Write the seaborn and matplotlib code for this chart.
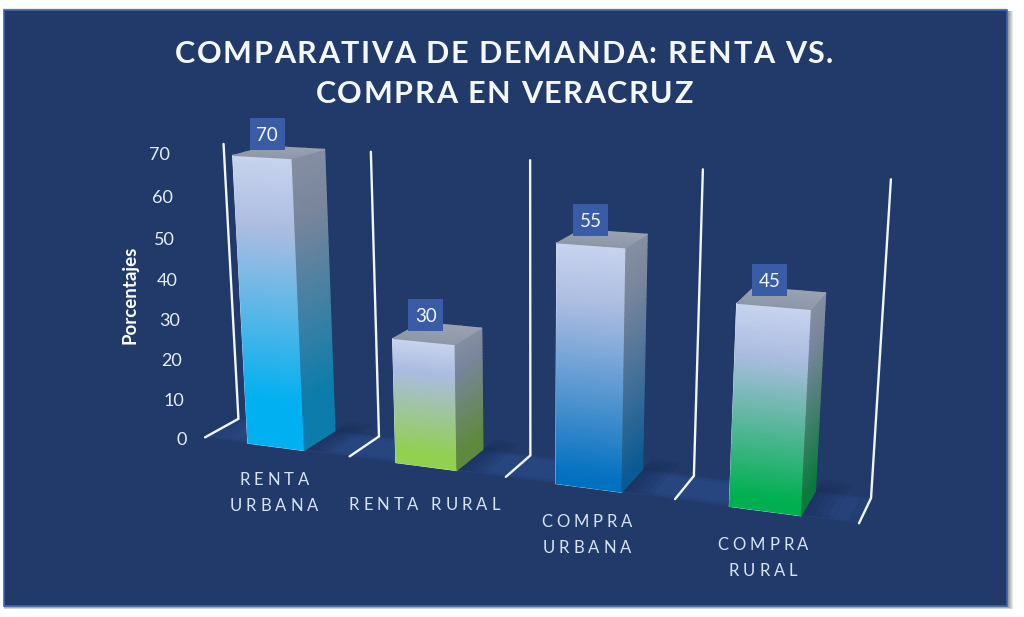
from __future__ import annotations

import matplotlib
matplotlib.use("Agg")
import matplotlib.pyplot as plt
import numpy as np
import pandas as pd
import seaborn as sns
from matplotlib.colors import LinearSegmentedColormap
from matplotlib.patches import Polygon, Rectangle
from matplotlib.text import Text
from matplotlib.transforms import IdentityTransform, Transform


CATEGORIES = ["RENTA\nURBANA", "RENTA RURAL", "COMPRA\nURBANA", "COMPRA\nRURAL"]
VALUES = [70, 30, 55, 45]
Y_TICKS = [0, 10, 20, 30, 40, 50, 60, 70]
BASE_COLORS = ["#00B0F0", "#92D050", "#0070C0", "#00B050"]
SIDE_COLORS = ["#0B7CAB", "#5F8A3C", "#0A5A94", "#0A7A3C"]
BASE_HOLD = [0.16, 0.1, 0.03, 0.06]
TITLE = "COMPARATIVA DE DEMANDA: RENTA VS.\nCOMPRA EN VERACRUZ"
Y_LABEL = "Porcentajes"

PANEL = "#213A69"
FLOOR = "#2A4A88"
EDGE = "#3F63AE"
BOX = "#3A5BA5"
LINE = "#F2F5FA"
BAR_WIDTH = 0.39
LABEL_DROP = [45, 37, 46, 46]

# camera: rows x, y, w; columns 1, category, value, depth (image pixels)
CAMERA = np.array([
    [273.96, 133.15, -0.383, 42.6],
    [443.41, 2.1, -4.22, -3.26],
    [0.99269, -0.0375, -0.000716, 0.037],
])


def project(t, v, d=0.0):
    t, v, d = np.broadcast_arrays(np.asarray(t, float), np.asarray(v, float), np.asarray(d, float))
    x, y, w = (row[0] + row[1] * t + row[2] * v + row[3] * d for row in CAMERA)
    return x / w, y / w


class FrontPlane(Transform):
    input_dims = 2
    output_dims = 2

    def transform_non_affine(self, values):
        x, y = project(values[:, 0], values[:, 1])
        return np.column_stack([x, y])


class TrackedText(Text):
    """Text with letter spacing, the string stays whole."""

    def __init__(self, x, y, text, tracking=0.0, leading=20.0, **kwargs):
        super().__init__(x, y, text, ha="center", va="center", **kwargs)
        self.tracking = tracking
        self.leading = leading

    def draw(self, renderer):
        fp = self.get_fontproperties()
        size = renderer.get_text_width_height_descent

        def advance(s):
            return size("|" + s + "|", fp, False)[0] - size("||", fp, False)[0]

        cx, cy = self.get_transform().transform(self.get_position())
        cap = size("H", fp, False)[1]
        lines = self.get_text().split("\n")
        for n, line in enumerate(lines):
            total = advance(line) + self.tracking * (len(line) - 1)
            base = cy - cap / 2 + ((len(lines) - 1) / 2 - n) * self.leading
            for k, ch in enumerate(line):
                if ch == " ":
                    continue
                glyph = Text(cx - total / 2 + advance(line[:k]) + k * self.tracking, base, ch,
                             fontproperties=fp, color=self.get_color(), ha="left", va="baseline",
                             transform=IdentityTransform())
                glyph.set_figure(self.get_figure())
                glyph.draw(renderer)


def draw_face(ax, t, v, d, c, cmap):
    x, y = project(t, v, d)
    ax.pcolormesh(x, y, c, shading="gouraud", cmap=cmap, vmin=0, vmax=1)


def floor_poly(t0, t1, d0, d1):
    x, y = project([t0, t1, t1, t0], 0, [d0, d0, d1, d1])
    return np.column_stack([x, y])


sns.set_theme(style="white")
plt.rcParams["font.family"] = ["Lato", "DejaVu Sans"]

fig = plt.figure(figsize=(10.24, 6.17), dpi=100, facecolor="white")
ax_back = fig.add_axes([0, 0, 1, 1], zorder=0)
ax_bar = fig.add_axes([0, 0, 1, 1], zorder=1)
ax_front = fig.add_axes([0, 0, 1, 1], zorder=2)
for ax in (ax_back, ax_front):
    ax.set_xlim(0, 1024)
    ax.set_ylim(617, 0)
    ax.set_axis_off()

# panel and its shadow
for s in range(6, 0, -1):
    ax_back.add_patch(Rectangle((4, 11), 1003 + s, 595 + s * 0.5, color="black", alpha=0.09, lw=0))
ax_back.add_patch(Rectangle((3, 8), 1004, 4, color="black", alpha=0.08, lw=0))
ax_back.add_patch(Rectangle((4, 10), 1003, 596, facecolor=PANEL, edgecolor=EDGE, lw=1.2))

# floor
n_cat = len(CATEGORIES)
bounds = np.arange(n_cat + 1) - 0.5
for inset, alpha in [(0.0, 0.35), (0.06, 0.35), (0.14, 0.4)]:
    ax_back.add_patch(Polygon(floor_poly(bounds[0] + inset, bounds[-1] - inset, inset, 1 - inset),
                              color=FLOOR, alpha=alpha, lw=0))

# seaborn draws the bars, the front plane carries them into the picture
df = pd.DataFrame({"categoria": CATEGORIES, "porcentaje": VALUES})
sns.barplot(data=df, x="categoria", y="porcentaje", hue="categoria", palette=BASE_COLORS,
            width=BAR_WIDTH, saturation=1, legend=False, ax=ax_bar)
ax_bar.set_axis_off()
for bar in ax_bar.patches:
    bar.set_transform(FrontPlane() + ax_back.transData)
    bar.set_clip_on(False)

top_cmap = LinearSegmentedColormap.from_list("top", ["#8E97A8", "#9AA2B2"])
for i, bar in enumerate(ax_bar.patches):
    left, right, height = bar.get_x(), bar.get_x() + bar.get_width(), bar.get_height()

    for k in range(5):
        shade = floor_poly(right, right + 0.03 + 0.035 * k, 0.05, 1.0 + 0.12 * k)
        ax_back.add_patch(Polygon(shade, color="#16294F", alpha=0.13, lw=0))

    front_cmap = LinearSegmentedColormap.from_list(
        f"front{i}",
        [(0, BASE_COLORS[i]), (BASE_HOLD[i], BASE_COLORS[i]), (0.76, "#ABBCE1"), (1, "#C8D4EE")],
    )
    side_cmap = LinearSegmentedColormap.from_list(
        f"side{i}",
        [(0, SIDE_COLORS[i]), (BASE_HOLD[i], SIDE_COLORS[i]), (0.8, "#78859C"), (1, "#858FA3")],
    )

    rows = np.linspace(0, height, 40)
    T, V = np.meshgrid(np.linspace(left, right, 4), rows)
    draw_face(ax_front, T, V, np.zeros_like(T), V / height, front_cmap)
    D, V = np.meshgrid(np.linspace(0, 1, 4), rows)
    draw_face(ax_front, np.full_like(D, right), V, D, V / height, side_cmap)
    T, D = np.meshgrid(np.linspace(left, right, 4), np.linspace(0, 1, 4))
    draw_face(ax_front, T, np.full_like(T, height), D, D, top_cmap)

    # value box
    bx, by = project((left + right) / 2, height, 0.5)
    bx, by = float(bx) - 12, float(by) - 18
    ax_front.add_patch(Rectangle((bx - 17.5, by - 16), 35, 32, color=BOX, lw=0))
    ax_front.text(bx, by + 1.5, str(VALUES[i]), color="#F2F5FA", fontsize=13.5, ha="center", va="center")

    # category label
    lx, ly = project((left + right) / 2, 0)
    ax_front.add_artist(TrackedText(float(lx) - 2, float(ly) + LABEL_DROP[i], CATEGORIES[i], tracking=4.0, leading=26,
                                    color="#D7E4F5", fontsize=12, transform=ax_front.transData))

# divider lines
top = max(Y_TICKS)
for b in bounds:
    x, y = project([b, b, b], [0, 0, top], [0, 1, 1])
    ax_back.plot(x, y, color=LINE, lw=1.7, solid_joinstyle="miter")

# value axis
for tick in Y_TICKS:
    x, y = project(bounds[0], tick)
    ax_front.text(float(x) - 18, float(y) + 2.5, str(tick), color="#E8EEF8", fontsize=13, ha="right", va="center")

ax_front.text(130, 295, Y_LABEL, color="white", fontsize=13.5, fontweight="bold", rotation=90,
              ha="center", va="center")
ax_front.add_artist(TrackedText(504, 72, TITLE, tracking=1.6, leading=40, color="#F4F7FC", fontsize=22,
                                fontweight="bold", transform=ax_front.transData))

fig.savefig("out.png", dpi=100)
